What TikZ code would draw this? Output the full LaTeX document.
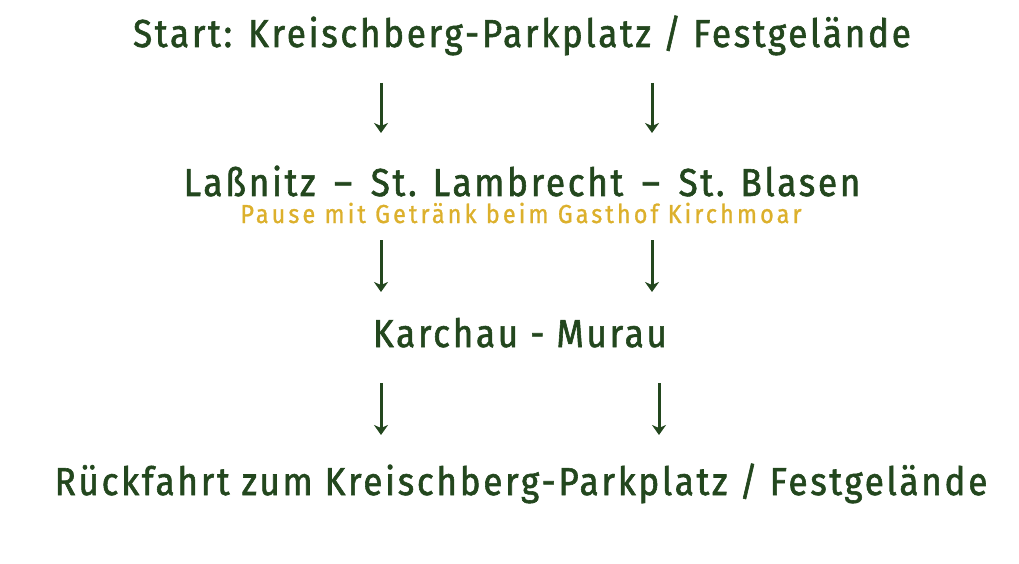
\documentclass[tikz,border=0pt]{standalone}
\usepackage{fontspec}
\setmainfont{Fira Sans}[FakeStretch=0.9,LetterSpace=7,FakeBold=1.5]
\newfontfamily\hinweisfont{Fira Sans}[FakeStretch=0.9,LetterSpace=12,FakeBold=1]
\usetikzlibrary{arrows.meta}

\definecolor{waldgruen}{RGB}{35,71,30}
\definecolor{senfgelb}{RGB}{220,176,44}

\tikzset{
  etappe/.style={anchor=base,inner sep=0pt,text=waldgruen,font=\fontsize{39}{40}\selectfont},
  hinweis/.style={anchor=base,inner sep=0pt,text=senfgelb,font=\hinweisfont\fontsize{26}{27}\selectfont},
  pfeil/.style={->,draw=waldgruen,line width=3pt}
}

\begin{document}
\begin{tikzpicture}[x=1pt,y=-1pt,>={Stealth[length=10pt,width=14pt,inset=3pt]}]

  \useasboundingbox (0,0) rectangle (1019,564);

  % stations
  \node[etappe] (start) at (522,47) {Start: Kreischberg-Parkplatz / Festgelände};
  \node[etappe] (lassnitz) at (522,196) {Laßnitz \,–\, St. Lambrecht \,–\, St. Blasen};
  \node[hinweis] (pause) at (521,223) {Pause mit Getränk beim Gasthof Kirchmoar};
  \node[etappe] (murau) at (520,347) {Karchau - Murau};
  \node[etappe] (ziel) at (521,495) {Rückfahrt zum Kreischberg-Parkplatz / Festgelände};

  % arrow ends
  \coordinate (A1) at (381,83);  \coordinate (A1e) at (381,133);
  \coordinate (B1) at (652,83);  \coordinate (B1e) at (652,133);
  \coordinate (A2) at (381,240); \coordinate (A2e) at (381,292);
  \coordinate (B2) at (652,240); \coordinate (B2e) at (652,292);
  \coordinate (A3) at (381,383); \coordinate (A3e) at (381,435);
  \coordinate (B3) at (659,383); \coordinate (B3e) at (659,435);

  \draw[pfeil] (A1) -- (A1e);
  \draw[pfeil] (B1) -- (B1e);
  \draw[pfeil] (A2) -- (A2e);
  \draw[pfeil] (B2) -- (B2e);
  \draw[pfeil] (A3) -- (A3e);
  \draw[pfeil] (B3) -- (B3e);

\end{tikzpicture}
\end{document}
